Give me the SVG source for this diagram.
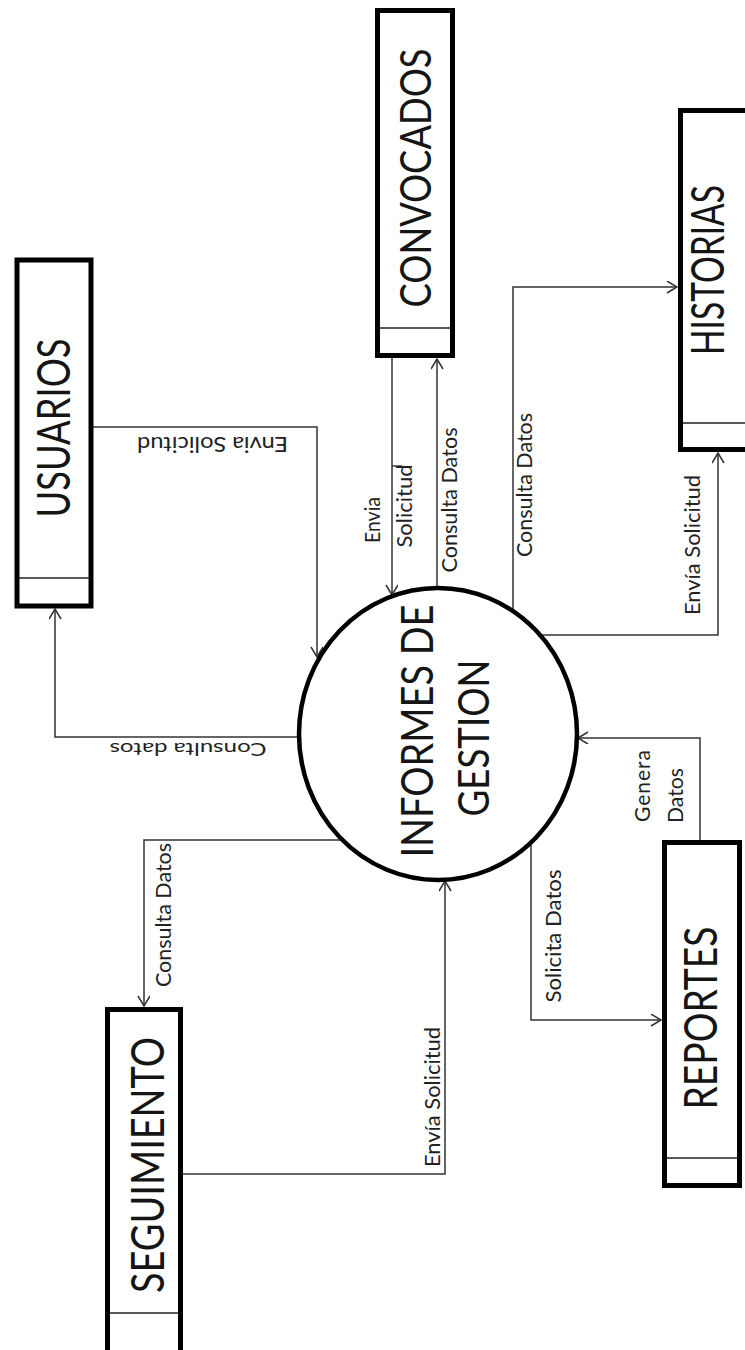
<svg xmlns="http://www.w3.org/2000/svg" width="745" height="1350" viewBox="0 0 745 1350">
  <style>
    .box { fill: #fff; stroke: #000; stroke-width: 5; }
    .sep { stroke: #222; stroke-width: 1.5; }
    .proc { fill: #fff; stroke: #000; stroke-width: 4.5; }
    .flow { fill: none; stroke: #333; stroke-width: 1.5; marker-end: url(#arr); }
    .tick { fill: none; stroke: #333; stroke-width: 1.4; }
    .big { font-family: Lato, "Liberation Sans", sans-serif; fill: #151515; }
    .lbl { font-family: Lato, "Liberation Sans", sans-serif; fill: #222; }
  </style>
  <defs>
    <marker id="arr" markerWidth="14" markerHeight="14" refX="11" refY="6" orient="auto" markerUnits="userSpaceOnUse">
      <path d="M1,0 L11,6 L1,12" fill="none" stroke="#333" stroke-width="1.5"/>
    </marker>
  </defs>
  <rect width="745" height="1350" fill="#fff"/>

  <!-- data flows -->
  <g id="connectors">
    <path class="flow" d="M93,427 H317 V657"/>
    <path class="flow" d="M300,737 H55 V609"/>
    <path class="flow" d="M392,358 V595"/>
    <path class="tick" d="M392,466 H402"/>
    <path class="flow" d="M437,588 V359"/>
    <path class="flow" d="M513,611 V287 H677"/>
    <path class="flow" d="M540,635 H718 V453"/>
    <path class="flow" d="M700,840 V738 H578"/>
    <path class="flow" d="M531,843 V1020 H661"/>
    <path class="flow" d="M341,840 H144 V1006"/>
    <path class="flow" d="M183,1174 H445 V881"/>

    <text class="lbl" font-size="21" transform="translate(212.5,437) rotate(180)" x="-75.5" y="0" textLength="151" lengthAdjust="spacingAndGlyphs">Envia Solicitud</text>
    <text class="lbl" font-size="18" transform="translate(188,743) rotate(180)" x="-78.5" y="0" textLength="157" lengthAdjust="spacingAndGlyphs">Consulta datos</text>
    <text class="lbl" font-size="21" transform="translate(380,520) rotate(-90)" x="-23" y="0" textLength="46" lengthAdjust="spacingAndGlyphs">Envia</text>
    <text class="lbl" font-size="22" transform="translate(412,506) rotate(-90)" x="-41.5" y="0" textLength="83" lengthAdjust="spacingAndGlyphs">Solicitud</text>
    <text class="lbl" font-size="22" transform="translate(457,500) rotate(-90)" x="-72.5" y="0" textLength="145" lengthAdjust="spacingAndGlyphs">Consulta Datos</text>
    <text class="lbl" font-size="22" transform="translate(532,485) rotate(-90)" x="-72" y="0" textLength="144" lengthAdjust="spacingAndGlyphs">Consulta Datos</text>
    <text class="lbl" font-size="22" transform="translate(700,545) rotate(-90)" x="-70" y="0" textLength="140" lengthAdjust="spacingAndGlyphs">Envía Solicitud</text>
    <text class="lbl" font-size="21" transform="translate(650,822) rotate(-90)" x="0" y="0" textLength="72" lengthAdjust="spacing">Genera</text>
    <text class="lbl" font-size="21" transform="translate(683,823) rotate(-90)" x="0" y="0" textLength="55" lengthAdjust="spacingAndGlyphs">Datos</text>
    <text class="lbl" font-size="22" transform="translate(561,936) rotate(-90)" x="-66.5" y="0" textLength="133" lengthAdjust="spacingAndGlyphs">Solicita Datos</text>
    <text class="lbl" font-size="22" transform="translate(171,915) rotate(-90)" x="-72" y="0" textLength="144" lengthAdjust="spacingAndGlyphs">Consulta Datos</text>
    <text class="lbl" font-size="22" transform="translate(440,1097) rotate(-90)" x="-70" y="0" textLength="140" lengthAdjust="spacingAndGlyphs">Envía Solicitud</text>
  </g>

  <!-- central process -->
  <g id="informes-de-gestion">
    <ellipse class="proc" cx="438" cy="734" rx="139" ry="146"/>
    <text class="big" font-size="44" transform="translate(433,731) rotate(-90)" x="-126.5" y="0" textLength="253" lengthAdjust="spacingAndGlyphs">INFORMES DE</text>
    <text class="big" font-size="43" transform="translate(489,738) rotate(-90)" x="-78.5" y="0" textLength="157" lengthAdjust="spacingAndGlyphs">GESTION</text>
  </g>

  <!-- external entities / stores -->
  <g id="usuarios">
    <rect class="box" x="17" y="260" width="74" height="346"/>
    <line class="sep" x1="19" y1="578" x2="89" y2="578"/>
    <text class="big" font-size="46" transform="translate(70,428) rotate(-90)" x="-89.5" y="0" textLength="179" lengthAdjust="spacingAndGlyphs">USUARIOS</text>
  </g>

  <g id="convocados">
    <rect class="box" x="377.5" y="10.5" width="75" height="345"/>
    <line class="sep" x1="380" y1="328" x2="450" y2="328"/>
    <text class="big" font-size="43" transform="translate(431,178) rotate(-90)" x="-129.5" y="0" textLength="259" lengthAdjust="spacingAndGlyphs">CONVOCADOS</text>
  </g>

  <g id="historias">
    <rect class="box" x="680.5" y="110.5" width="90" height="339"/>
    <line class="sep" x1="683" y1="423" x2="745" y2="423"/>
    <text class="big" font-size="46" transform="translate(724,270) rotate(-90)" x="-85" y="0" textLength="170" lengthAdjust="spacingAndGlyphs">HISTORIAS</text>
  </g>

  <g id="seguimiento">
    <rect class="box" x="107.5" y="1009.5" width="73" height="400"/>
    <line class="sep" x1="110" y1="1313" x2="178" y2="1313"/>
    <text class="big" font-size="46" transform="translate(164,1165) rotate(-90)" x="-128" y="0" textLength="256" lengthAdjust="spacingAndGlyphs">SEGUIMIENTO</text>
  </g>

  <g id="reportes">
    <rect class="box" x="664.5" y="842.5" width="75" height="343"/>
    <line class="sep" x1="667" y1="1158" x2="737" y2="1158"/>
    <text class="big" font-size="46" transform="translate(717,1018) rotate(-90)" x="-91.5" y="0" textLength="183" lengthAdjust="spacingAndGlyphs">REPORTES</text>
  </g>
</svg>
